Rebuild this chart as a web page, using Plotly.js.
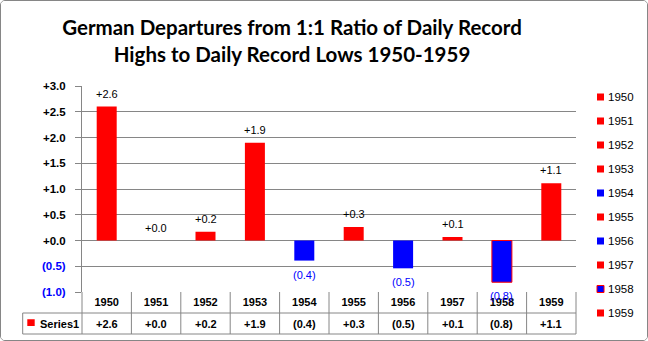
<!DOCTYPE html>
<html>
<head>
<meta charset="utf-8">
<script src="https://cdn.plot.ly/plotly-3.0.1.min.js"></script>
<style>
  html, body { margin: 0; padding: 0; background: #fff; }
  #chart { width: 646px; height: 339px; border: 1px solid #868686; border-radius: 5px; overflow: hidden; }
</style>
</head>
<body>
<div id="chart"></div>
<script>
// ---- data ----
var categories = ['1950', '1951', '1952', '1953', '1954', '1955', '1956', '1957', '1958', '1959'];
var values = [2.6, 0.0, 0.17, 1.9, -0.39, 0.26, -0.54, 0.07, -0.81, 1.11];
var legendColors = ['#FF0000', '#FF0000', '#FF0000', '#FF0000', '#0000FF', '#FF0000', '#0000FF', '#FF0000', '#0000FF', '#FF0000'];
var seriesName = 'Series1';
var yTickVals = [-1, -0.5, 0, 0.5, 1, 1.5, 2, 2.5, 3];

// ---- helpers ----
function fmt(v) {
  var r = Math.round(Math.abs(v) * 10) / 10;
  return v < -0.0001 ? '(' + r.toFixed(1) + ')' : '+' + r.toFixed(1);
}
var RED = '#FF0000', BLUE = '#0000FF', GRID = '#868686';
// page pixel -> paper coords (plot area page x 82..576, y 86..292)
function PX(p) { return (p - 82) / 494; }
function PY(p) { return (292 - p) / 206; }

var barColors = values.map(function (v) { return v < 0 ? BLUE : RED; });
var lineColors = values.map(function (v, i) { return i === 8 ? RED : 'rgba(0,0,0,0)'; });
var lineWidths = values.map(function (v, i) { return i === 8 ? 1 : 0; });

var bar = {
  type: 'bar',
  x: categories,
  y: values,
  name: seriesName,
  marker: { color: barColors, line: { color: lineColors, width: lineWidths } },
  hoverinfo: 'x+y',
  showlegend: false
};

var tickText = yTickVals.map(function (v) {
  var s = fmt(v);
  return v < 0 ? '<span style="color:#0000FF">' + s + '</span>' : s;
});

var shapes = [];
var annotations = [];
// data labels on bars
values.forEach(function (v, i) {
  var neg = v < 0;
  annotations.push({ xref: 'x', yref: 'y', x: i, y: v, xanchor: 'center', yanchor: 'middle', yshift: neg ? -14 : 13, showarrow: false, text: fmt(v), font: { family: 'Liberation Sans, Arial, sans-serif', size: 11, color: neg ? BLUE : '#000' } });
});
// table lines
shapes.push({ type: 'line', xref: 'paper', yref: 'paper', x0: PX(22.7), x1: 1, y0: PY(313), y1: PY(313), line: { color: GRID, width: 1 } });
shapes.push({ type: 'line', xref: 'paper', yref: 'paper', x0: PX(22.7), x1: 1, y0: PY(334), y1: PY(334), line: { color: GRID, width: 1 } });
shapes.push({ type: 'line', xref: 'paper', yref: 'paper', x0: PX(22.7), x1: PX(22.7), y0: PY(313), y1: PY(334), line: { color: GRID, width: 1 } });
for (var i = 0; i <= categories.length; i++) {
  shapes.push({ type: 'line', xref: 'paper', yref: 'paper', x0: i / categories.length, x1: i / categories.length, y0: 0, y1: PY(334), line: { color: GRID, width: 1 } });
}
// series key in table
shapes.push({ type: 'rect', xref: 'paper', yref: 'paper', x0: PX(27.3), x1: PX(34.7), y0: PY(326), y1: PY(319.3), fillcolor: RED, line: { width: 0 } });
annotations.push({ xref: 'paper', yref: 'paper', x: PX(37.5), y: PY(323.5), xanchor: 'left', yanchor: 'middle', showarrow: false, text: seriesName, font: { family: 'Liberation Sans, Arial, sans-serif', size: 11, color: '#000', weight: 'bold' } });
// data row
categories.forEach(function (c, i) {
  annotations.push({ xref: 'x', yref: 'paper', x: i, y: PY(323.5), xanchor: 'center', yanchor: 'middle', showarrow: false, text: fmt(values[i]), font: { family: 'Liberation Sans, Arial, sans-serif', size: 11, color: '#000', weight: 'bold' } });
});
// right-hand legend
categories.forEach(function (c, i) {
  var yc = 97 + i * 24;
  shapes.push({ type: 'rect', xref: 'paper', yref: 'paper', x0: PX(597), x1: PX(604), y0: PY(yc + 3.5), y1: PY(yc - 3.5), fillcolor: legendColors[i], line: { width: i === 8 ? 1 : 0, color: RED } });
  annotations.push({ xref: 'paper', yref: 'paper', x: PX(605.5), y: PY(yc), xanchor: 'left', yanchor: 'middle', showarrow: false, text: c, font: { family: 'Liberation Sans, Arial, sans-serif', size: 11.5, color: '#000' } });
});

var layout = {
  width: 646,
  height: 339,
  margin: { l: 81, r: 71, t: 85, b: 48 },
  paper_bgcolor: '#fff',
  plot_bgcolor: '#fff',
  showlegend: false,
  bargap: 0.595,
  title: {
    text: 'German Departures from 1:1 Ratio of Daily Record<br>Highs to Daily Record Lows 1950-1959',
    font: { family: 'Lato, Liberation Sans, sans-serif', size: 20.5, color: '#000', weight: 'bold' },
    x: 291 / 646, xanchor: 'center', xref: 'container',
    y: 1 - 34 / 339, yanchor: 'top', yref: 'container'
  },
  xaxis: {
    type: 'category',
    range: [-0.5, categories.length - 0.5],
    autorange: false,
    showgrid: false,
    showline: false,
    zeroline: false,
    ticks: '',
    ticklabelstandoff: 2,
    tickfont: { family: 'Liberation Sans, Arial, sans-serif', size: 11, color: '#000', weight: 'bold' },
    fixedrange: true
  },
  yaxis: {
    range: [-1, 3],
    autorange: false,
    tickvals: yTickVals,
    ticktext: tickText,
    ticks: 'outside',
    ticklen: 6,
    tickcolor: GRID,
    showline: true,
    linecolor: GRID,
    linewidth: 1,
    showgrid: true,
    gridcolor: GRID,
    gridwidth: 1,
    zeroline: false,
    ticklabelstandoff: 7,
    tickfont: { family: 'Liberation Sans, Arial, sans-serif', size: 11.5, color: '#000', weight: 'bold' },
    fixedrange: true
  },
  shapes: shapes,
  annotations: annotations
};

Plotly.newPlot('chart', [bar], layout, { displayModeBar: false, staticPlot: true });
</script>
</body>
</html>
